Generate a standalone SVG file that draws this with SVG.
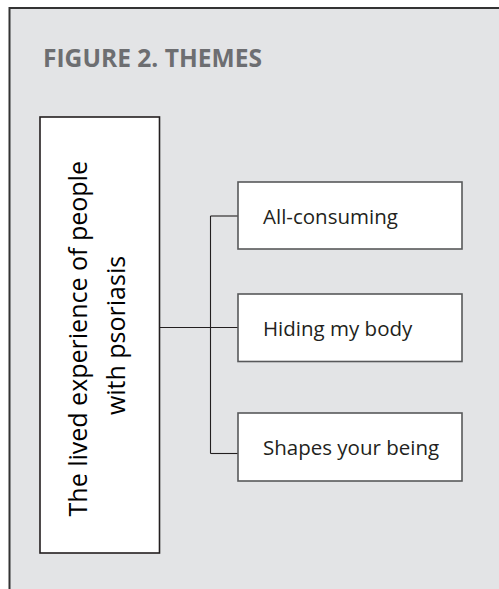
<svg xmlns="http://www.w3.org/2000/svg" width="499" height="589" viewBox="0 0 499 589">
  <style>
    .frame { fill: #e3e4e6; }
    .frameLine { stroke: #333333; stroke-width: 2; fill: none; }
    .title { font-family: "Open Sans", "DejaVu Sans", sans-serif; font-weight: bold; font-size: 25px; fill: #6d6e71; }
    .mainBox { fill: #ffffff; stroke: #231f20; stroke-width: 1.6; }
    .themeBox { fill: #ffffff; stroke: #58595b; stroke-width: 1.6; }
    .mainText { font-family: "Open Sans", "DejaVu Sans", sans-serif; font-size: 25px; fill: #000000; }
    .themeText { font-family: "Open Sans", "DejaVu Sans", sans-serif; font-size: 20.5px; fill: #231f20; }
    .conn { stroke: #231f20; stroke-width: 1.1; fill: none; }
  </style>
  <rect x="0" y="0" width="499" height="589" fill="#ffffff"/>
  <rect class="frame" x="9.5" y="8" width="489.5" height="581"/>
  <path class="frameLine" d="M9.5 589 V8 H499"/>
  <text class="title" x="43" y="67" textLength="219" lengthAdjust="spacingAndGlyphs">FIGURE 2. THEMES</text>

  <g id="connectors">
    <path class="conn" d="M159.5 327.5 H238"/>
    <path class="conn" d="M210.5 216 V453.5"/>
    <path class="conn" d="M210.5 216 H238"/>
    <path class="conn" d="M210.5 453.5 H238"/>
  </g>

  <g id="main">
    <rect class="mainBox" x="40" y="117" width="119.5" height="436"/>
    <text class="mainText" text-anchor="middle" transform="translate(87,335.5) rotate(-90)">
      <tspan x="0" y="0">The lived experience of people</tspan>
      <tspan x="0" y="38">with psoriasis</tspan>
    </text>
  </g>

  <g id="theme1">
    <rect class="themeBox" x="238" y="182" width="224" height="67"/>
    <text class="themeText" x="263" y="224">All-consuming</text>
  </g>
  <g id="theme2">
    <rect class="themeBox" x="238" y="294" width="224" height="67.5"/>
    <text class="themeText" x="263" y="336">Hiding my body</text>
  </g>
  <g id="theme3">
    <rect class="themeBox" x="238" y="413" width="224" height="68"/>
    <text class="themeText" x="263" y="455">Shapes your being</text>
  </g>
</svg>
